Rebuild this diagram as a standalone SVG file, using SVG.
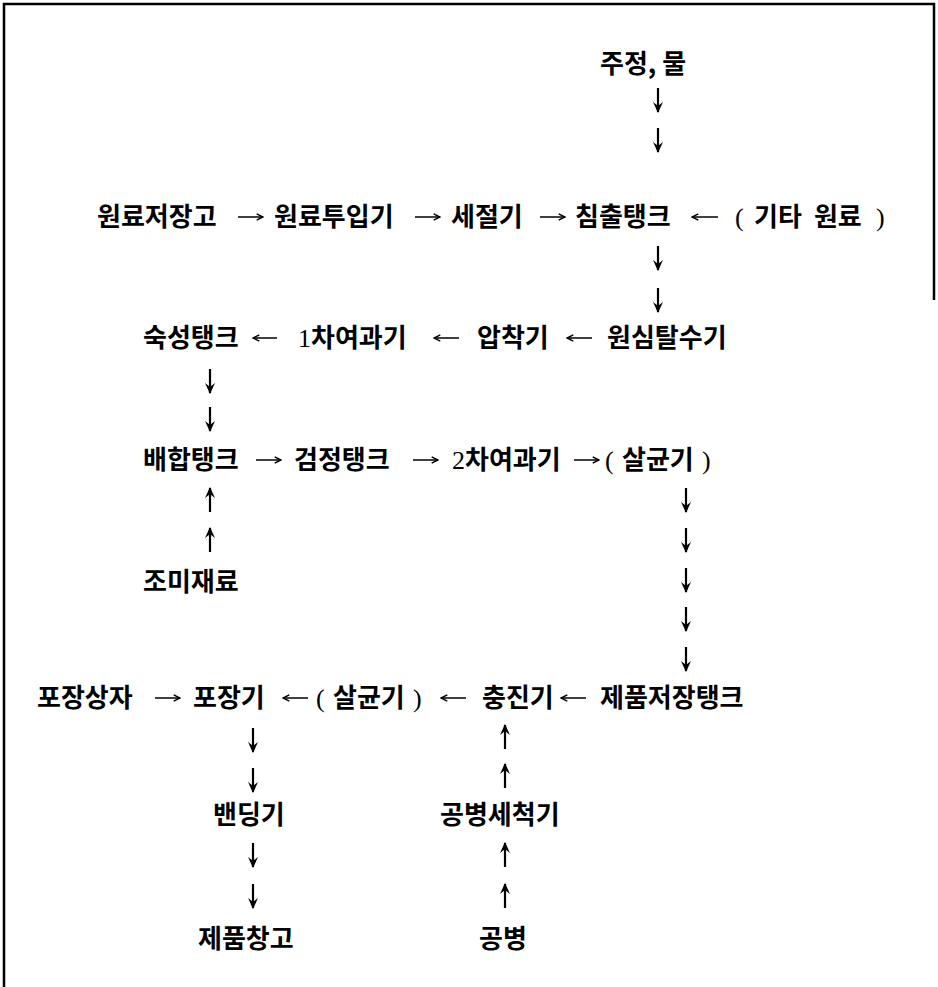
<svg xmlns="http://www.w3.org/2000/svg" width="938" height="987" viewBox="0 0 938 987">
<style>
.t{font-family:"Noto Sans CJK KR","Noto Sans",sans-serif;font-size:26px;font-weight:700;fill:#000}
.s{font-family:"Liberation Serif",serif;font-weight:400}
.c line{stroke:#000;fill:none}
.h{stroke-width:1.5;marker-end:url(#ho)}
.v{stroke-width:2.2;marker-end:url(#vf)}
.frame{stroke:#000;stroke-width:2.5;fill:none}
</style>
<defs>
<marker id="ho" viewBox="0 0 10 10" refX="9" refY="5" markerWidth="9" markerHeight="9" markerUnits="userSpaceOnUse" orient="auto"><path d="M2,1.5 L9,5 L2,8.5" fill="none" stroke="#000" stroke-width="1.6"/></marker>
<marker id="vf" viewBox="0 0 10 10" refX="9" refY="5" markerWidth="11" markerHeight="11" markerUnits="userSpaceOnUse" orient="auto"><path d="M0,0.5 L10,5 L0,9.5 L3.5,5 z" fill="#000"/></marker>
</defs>
<rect width="938" height="987" fill="#fff"/>
<path class="frame" d="M4,987 L4,4 L934,4 L934,300"/>

<g id="n-jujeong"><text class="t" x="600" y="73">주정, 물</text></g>
<g id="n-wonryojeojang"><text class="t" x="97" y="226">원료저장고</text></g>
<g id="n-wonryotuip"><text class="t" x="274" y="226">원료투입기</text></g>
<g id="n-sejeol"><text class="t" x="451" y="226">세절기</text></g>
<g id="n-chimchul"><text class="t" x="575" y="226">침출탱크</text></g>
<g id="n-gita"><text class="t" x="735" y="226"><tspan class="s">(</tspan><tspan x="754">기타</tspan><tspan x="808"> 원료</tspan><tspan class="s" x="876">)</tspan></text></g>

<g id="n-sukseong"><text class="t" x="143" y="347">숙성탱크</text></g>
<g id="n-yeogwa1"><text class="t" x="298" y="347"><tspan class="s">1</tspan>차여과기</text></g>
<g id="n-apchak"><text class="t" x="477" y="347">압착기</text></g>
<g id="n-wonsim"><text class="t" x="607" y="347">원심탈수기</text></g>

<g id="n-baehap"><text class="t" x="143" y="469">배합탱크</text></g>
<g id="n-geomjeong"><text class="t" x="294" y="469">검정탱크</text></g>
<g id="n-yeogwa2"><text class="t" x="452" y="469"><tspan class="s">2</tspan>차여과기</text></g>
<g id="n-salgyun1"><text class="t" x="605" y="469"><tspan class="s">(</tspan><tspan x="622">살균기</tspan><tspan class="s" x="702">)</tspan></text></g>
<g id="n-jomi"><text class="t" x="143" y="591">조미재료</text></g>

<g id="n-pojangsangja"><text class="t" x="37" y="707">포장상자</text></g>
<g id="n-pojang"><text class="t" x="193" y="707">포장기</text></g>
<g id="n-salgyun2"><text class="t" x="316" y="707"><tspan class="s">(</tspan><tspan x="333">살균기</tspan><tspan class="s" x="413">)</tspan></text></g>
<g id="n-chungjin"><text class="t" x="482" y="707">충진기</text></g>
<g id="n-jepumjeojang"><text class="t" x="600" y="707">제품저장탱크</text></g>
<g id="n-banding"><text class="t" x="213" y="824">밴딩기</text></g>
<g id="n-gongbyeongsecheok"><text class="t" x="440" y="824">공병세척기</text></g>
<g id="n-jepumchanggo"><text class="t" x="198" y="948">제품창고</text></g>
<g id="n-gongbyeong"><text class="t" x="479" y="948">공병</text></g>

<g id="connectors" class="c">
<line class="v" x1="658" y1="88" x2="658" y2="112"/>
<line class="v" x1="658" y1="128" x2="658" y2="152"/>
<line class="h" x1="238" y1="217" x2="263" y2="217"/>
<line class="h" x1="415" y1="217" x2="440" y2="217"/>
<line class="h" x1="540" y1="217" x2="565" y2="217"/>
<line class="h" x1="718" y1="217" x2="692" y2="217"/>
<line class="v" x1="658" y1="246" x2="658" y2="270"/>
<line class="v" x1="658" y1="288" x2="658" y2="312"/>
<line class="h" x1="277" y1="338" x2="253" y2="338"/>
<line class="h" x1="459" y1="338" x2="434" y2="338"/>
<line class="h" x1="592" y1="338" x2="567" y2="338"/>
<line class="v" x1="210" y1="369" x2="210" y2="393"/>
<line class="v" x1="210" y1="407" x2="210" y2="431"/>
<line class="h" x1="256" y1="460" x2="281" y2="460"/>
<line class="h" x1="413" y1="460" x2="438" y2="460"/>
<line class="h" x1="574" y1="460" x2="599" y2="460"/>
<line class="v" x1="210" y1="512" x2="210" y2="488"/>
<line class="v" x1="210" y1="552" x2="210" y2="528"/>
<line class="v" x1="686" y1="488" x2="686" y2="512"/>
<line class="v" x1="686" y1="528" x2="686" y2="552"/>
<line class="v" x1="686" y1="568" x2="686" y2="592"/>
<line class="v" x1="686" y1="607" x2="686" y2="631"/>
<line class="v" x1="686" y1="647" x2="686" y2="671"/>
<line class="h" x1="155" y1="698" x2="180" y2="698"/>
<line class="h" x1="308" y1="698" x2="283" y2="698"/>
<line class="h" x1="466" y1="698" x2="441" y2="698"/>
<line class="h" x1="586" y1="698" x2="561" y2="698"/>
<line class="v" x1="253" y1="728" x2="253" y2="752"/>
<line class="v" x1="253" y1="768" x2="253" y2="792"/>
<line class="v" x1="505" y1="749" x2="505" y2="725"/>
<line class="v" x1="505" y1="788" x2="505" y2="764"/>
<line class="v" x1="253" y1="843" x2="253" y2="867"/>
<line class="v" x1="253" y1="884" x2="253" y2="908"/>
<line class="v" x1="505" y1="867" x2="505" y2="843"/>
<line class="v" x1="505" y1="908" x2="505" y2="884"/>
</g>
</svg>
